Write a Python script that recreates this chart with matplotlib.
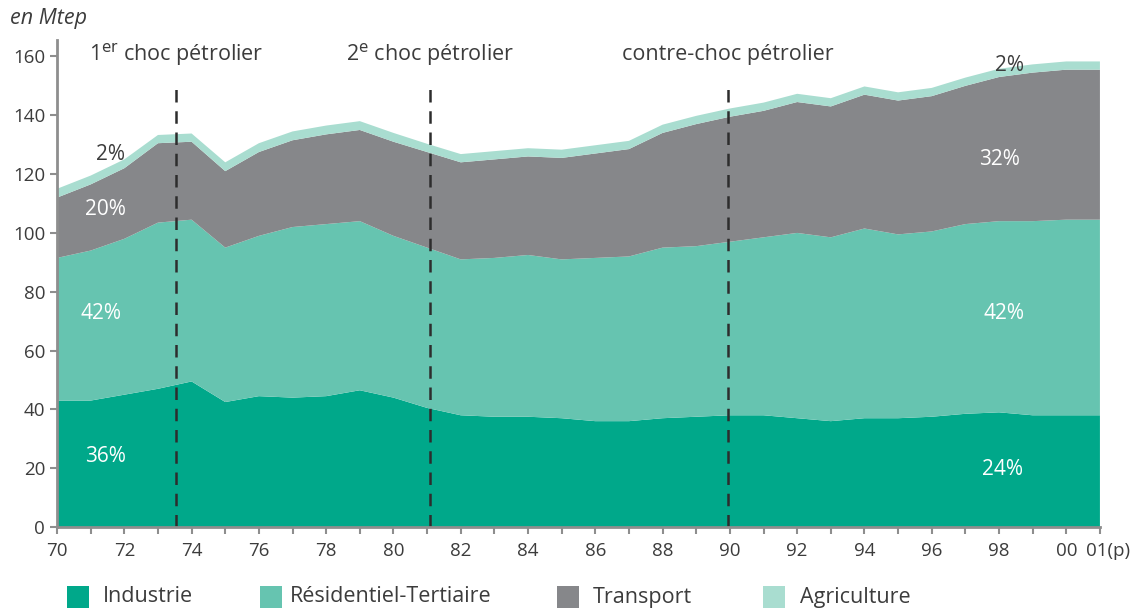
import numpy as np
import matplotlib
matplotlib.use("Agg")
from matplotlib import pyplot as plt
from matplotlib.patches import Rectangle
from matplotlib.transforms import ScaledTranslation

plt.rcParams['font.family'] = ['Open Sans', 'DejaVu Sans']

# consommation finale par secteur, en Mtep
years = np.arange(1970, 2002)
industrie = [43, 43, 45, 47, 49.5, 42.5, 44.5, 44, 44.5, 46.5, 44, 40.5, 38, 37.5, 37.5, 37,
             36, 36, 37, 37.5, 38, 38, 37, 36, 37, 37, 37.5, 38.5, 39, 38, 38, 38]
residentiel = [48.5, 51, 53, 56.5, 55, 52.5, 54.5, 58, 58.5, 57.5, 55, 54.5, 53, 54, 55, 54,
               55.5, 56, 58, 58, 59, 60.5, 63, 62.5, 64.5, 62.5, 63, 64.5, 65, 66, 66.5, 66.5]
transport = [20.5, 22.5, 24, 27, 26.5, 26, 28.5, 29.5, 30.5, 31, 32, 32.5, 33, 33.5, 33.5, 34.5,
             35.5, 36.5, 39, 41.5, 42.5, 43, 44.5, 44.5, 45.5, 45.5, 46, 47, 49, 50.5, 51, 51]
agriculture = [3, 3, 3, 2.8, 2.8, 3, 3, 3, 3, 3, 3, 2.8, 2.8, 2.8, 2.8, 2.8,
               2.8, 2.8, 2.8, 2.8, 2.8, 2.8, 2.8, 2.8, 2.8, 2.8, 2.8, 2.8, 2.8, 2.8, 2.8, 2.8]

secteurs = ['Industrie', 'Résidentiel-Tertiaire', 'Transport', 'Agriculture']
couleurs = ['#00a88a', '#66c4b0', '#86878a', '#a9ddd0']

# chocs pétroliers
chocs = [1973.55, 1981.1, 1989.95]
chocs_labels = ['1$^{\\mathrm{er}}$ choc pétrolier', '2$^{\\mathrm{e}}$ choc pétrolier',
                'contre-choc pétrolier']

# parts en % (1970 à gauche, 2001 à droite)
parts_70 = ['36%', '42%', '20%', '2%']
parts_01 = ['24%', '42%', '32%', '2%']

xticks = list(range(1970, 2001, 2)) + [2001]
xlabels = ['%02d' % (y % 100) for y in range(1970, 2001, 2)] + ['01(p)']

grey_text = '#3c3c3c'
axis_grey = '#8e8e8e'

W, H = 1141, 610
fig = plt.figure(figsize=(W / 100, H / 100), dpi=100)
ax = fig.add_axes([0.05, 0.136, 0.914, 0.798])

ax.stackplot(years, industrie, residentiel, transport, agriculture,
             colors=couleurs, linewidth=0)

for x in chocs:
    ax.plot([x, x], [0, 149.5], color='#2d2d2d', lw=1.8, linestyle=(0, (5, 3.5)))
for x, lab in zip(chocs, chocs_labels):
    ax.text(x, 160.5, lab, ha='center', va='center', fontsize=15.5, color=grey_text)

# étiquettes de parts
pos_70 = [(1971.45, 24), (1971.3, 72.7), (1971.45, 108), (1971.6, 126.7)]
pos_01 = [(1998.1, 19.7), (1998.15, 72.7), (1998.0, 125), (1998.3, 157)]
for i in range(4):
    col = 'white' if i < 3 else grey_text
    ax.text(*pos_70[i], parts_70[i], ha='center', va='center', fontsize=15, color=col)
    ax.text(*pos_01[i], parts_01[i], ha='center', va='center', fontsize=15, color=col)

ax.set_xlim(1970, 2001)
ax.set_ylim(0, 165.5)
ax.set_yticks(range(0, 161, 20))
ax.set_xticks(xticks)
ax.set_xticklabels(xlabels)
ax.set_xticks(range(1971, 2001, 2), minor=True)
ax.tick_params(axis='both', which='both', colors=axis_grey, labelcolor=grey_text,
               labelsize=13.5, length=5, width=1.5, direction='out')
ax.tick_params(axis='x', pad=6)

# "01(p)" : le 01 reste sous la graduation, le (p) déborde à droite
last = ax.get_xticklabels()[-1]
last.set_horizontalalignment('left')
last.set_transform(last.get_transform() + ScaledTranslation(-14 / 100, 0, fig.dpi_scale_trans))

for side in ['top', 'right']:
    ax.spines[side].set_visible(False)
for side in ['left', 'bottom']:
    ax.spines[side].set_color(axis_grey)
    ax.spines[side].set_linewidth(2)

fig.text(0.009, 0.97, 'en Mtep', fontsize=15.5, style='italic', color=grey_text,
         ha='left', va='center')

# légende en bas, carrés + libellés (positions en pixels)
leg_square_x = [67, 260, 557, 763]
leg_text_x = [103, 290, 593, 800]
leg_y = 597
sq = 22
for c, lab, xs, xt in zip(couleurs, secteurs, leg_square_x, leg_text_x):
    fig.patches.append(Rectangle((xs / W, (H - leg_y - sq / 2) / H), sq / W, sq / H,
                                 facecolor=c, edgecolor='none', transform=fig.transFigure))
    fig.text(xt / W, (H - leg_y) / H, lab, fontsize=15.5, color=grey_text,
             ha='left', va='center')

fig.savefig('out.png', dpi=100)
